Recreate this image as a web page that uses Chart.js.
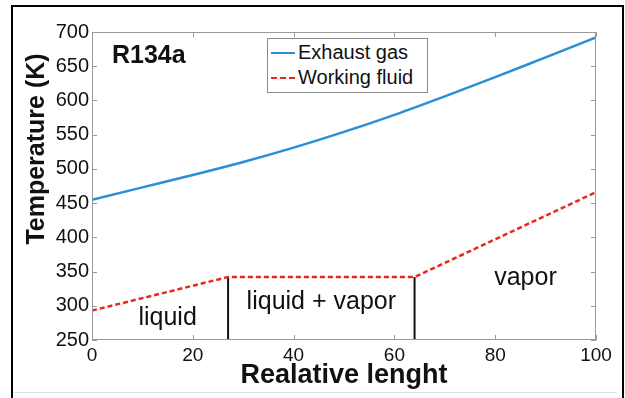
<!DOCTYPE html>
<html>
<head>
<meta charset="utf-8">
<script src="https://cdn.jsdelivr.net/npm/chart.js@4.4.1/dist/chart.umd.min.js"></script>
<style>
  html, body { margin: 0; padding: 0; background: #fff; }
  #wrap { position: relative; width: 625px; height: 398px; }
  #legend {
    position: absolute; left: 267px; top: 38px; width: 159px; height: 53px;
    border: 1px solid #8c8c8c; background: #fff;
    font: 20px "Liberation Sans", Arial, sans-serif; color: #111;
  }
  .item { position: absolute; left: 3px; display: flex; align-items: center; }
  .item span.swatch { display: inline-block; width: 24px; margin-right: 3px; }
</style>
</head>
<body>
<div id="wrap">
  <canvas id="chart" width="625" height="398"></canvas>
  <div id="legend">
    <div class="item" style="top:2px"><span class="swatch" style="border-top:2.5px solid #2a8fd6"></span>Exhaust gas</div>
    <div class="item" style="top:27px"><span class="swatch" style="border-top:2.5px dashed #e8281e"></span>Working fluid</div>
  </div>
</div>
<script>
// ─── DATA ────────────────────────────────────────────
const gasLength    = [0, 10, 20, 30, 40, 50, 60, 70, 80, 90, 100];
const exhaustGas   = [455, 473, 491, 510, 531, 554, 579, 606, 634, 663, 692];
const fluidLength  = [0, 27, 64, 100];
const workingFluid = [293, 342, 342, 466];
const phaseBounds  = [27, 64];
const phaseTop     = 342;
const xTicks = [0, 20, 40, 60, 80, 100];
const yTicks = [250, 300, 350, 400, 450, 500, 550, 600, 650, 700];
const notes = [
  { text: 'liquid',         x: 15,   y: 282 },
  { text: 'liquid + vapor', x: 45.5, y: 305 },
  { text: 'vapor',          x: 86,   y: 340 },
];

const FONT = '"Liberation Sans", Arial, Helvetica, sans-serif';
const AXIS = '#9a9a9a';

const toXY = (xs, ys) => xs.map((x, i) => ({ x, y: ys[i] }));

// ─── FRAME / TICKS / NOTES ───────────────────────────
const framePlugin = {
  id: 'frame',
  beforeDraw(chart) {
    const ctx = chart.ctx;
    ctx.save();
    ctx.fillStyle = '#fff';
    ctx.fillRect(0, 0, chart.width, chart.height);
    // outer picture border
    ctx.strokeStyle = '#000';
    ctx.lineWidth = 2;
    ctx.beginPath();
    ctx.moveTo(12, 398); ctx.lineTo(12, 6); ctx.lineTo(623, 6); ctx.lineTo(623, 398);
    ctx.stroke();
    ctx.strokeStyle = '#e2e2e2';
    ctx.lineWidth = 1;
    ctx.beginPath(); ctx.moveTo(13, 392.5); ctx.lineTo(617, 392.5); ctx.stroke();
    ctx.restore();
  },
  afterDatasetsDraw(chart) {
    const { ctx, chartArea: a, scales: { x, y } } = chart;
    ctx.save();
    ctx.strokeStyle = AXIS;
    ctx.lineWidth = 1;
    ctx.strokeRect(a.left + 0.5, a.top + 0.5, a.right - a.left - 1, a.bottom - a.top - 1);
    ctx.beginPath();
    xTicks.forEach(v => {
      const px = Math.round(x.getPixelForValue(v)) + 0.5;
      ctx.moveTo(px, a.bottom); ctx.lineTo(px, a.bottom - 5);
      ctx.moveTo(px, a.top);    ctx.lineTo(px, a.top + 5);
    });
    yTicks.forEach(v => {
      const py = Math.round(y.getPixelForValue(v)) + 0.5;
      ctx.moveTo(a.left, py);  ctx.lineTo(a.left + 5, py);
      ctx.moveTo(a.right, py); ctx.lineTo(a.right - 5, py);
    });
    ctx.stroke();

    // region labels
    ctx.fillStyle = '#111';
    ctx.font = '25px ' + FONT;
    ctx.textAlign = 'center';
    ctx.textBaseline = 'middle';
    notes.forEach(n => ctx.fillText(n.text, x.getPixelForValue(n.x), y.getPixelForValue(n.y)));

    // fluid tag
    ctx.font = 'bold 25px ' + FONT;
    ctx.textAlign = 'left';
    ctx.fillText('R134a', a.left + 20, a.top + 24);

    // y axis title
    ctx.font = 'bold 25px ' + FONT;
    ctx.translate(37, 149);
    ctx.rotate(-Math.PI / 2);
    ctx.textAlign = 'center';
    ctx.fillText('Temperature (K)', 0, 0);
    ctx.restore();
  }
};

const boundarySets = phaseBounds.map(b => ({
  data: toXY([b, b], [250, phaseTop]),
  borderColor: '#111',
  borderWidth: 2,
  pointRadius: 0,
}));

new Chart(document.getElementById('chart'), {
  type: 'line',
  data: {
    datasets: [
      {
        label: 'Exhaust gas',
        data: toXY(gasLength, exhaustGas),
        borderColor: '#2a8fd6',
        borderWidth: 2.5,
        pointRadius: 0,
        cubicInterpolationMode: 'monotone',
      },
      {
        label: 'Working fluid',
        data: toXY(fluidLength, workingFluid),
        borderColor: '#e8281e',
        borderWidth: 2.5,
        borderDash: [5, 3],
        pointRadius: 0,
        tension: 0,
      },
      ...boundarySets,
    ],
  },
  options: {
    responsive: false,
    animation: false,
    events: [],
    layout: { padding: { left: 12, top: 32, right: 29, bottom: 6 } },
    plugins: { legend: { display: false }, tooltip: { enabled: false } },
    scales: {
      x: {
        type: 'linear',
        min: 0, max: 100,
        afterBuildTicks: s => { s.ticks = xTicks.map(v => ({ value: v })); },
        afterFit: s => { s.height = 52; },
        grid: { display: false, drawTicks: false },
        border: { display: false },
        ticks: { color: '#111', padding: 4, font: { size: 19, family: FONT } },
        title: {
          display: true,
          text: 'Realative lenght',
          color: '#111',
          padding: { top: 0, bottom: 0 },
          font: { size: 27, weight: 'bold', family: FONT },
        },
      },
      y: {
        type: 'linear',
        min: 250, max: 700,
        afterBuildTicks: s => { s.ticks = yTicks.map(v => ({ value: v })); },
        afterFit: s => { s.width = 80; },
        grid: { display: false, drawTicks: false },
        border: { display: false },
        ticks: { color: '#111', padding: 3, font: { size: 20, family: FONT } },
      },
    },
  },
  plugins: [framePlugin],
});
</script>
</body>
</html>
